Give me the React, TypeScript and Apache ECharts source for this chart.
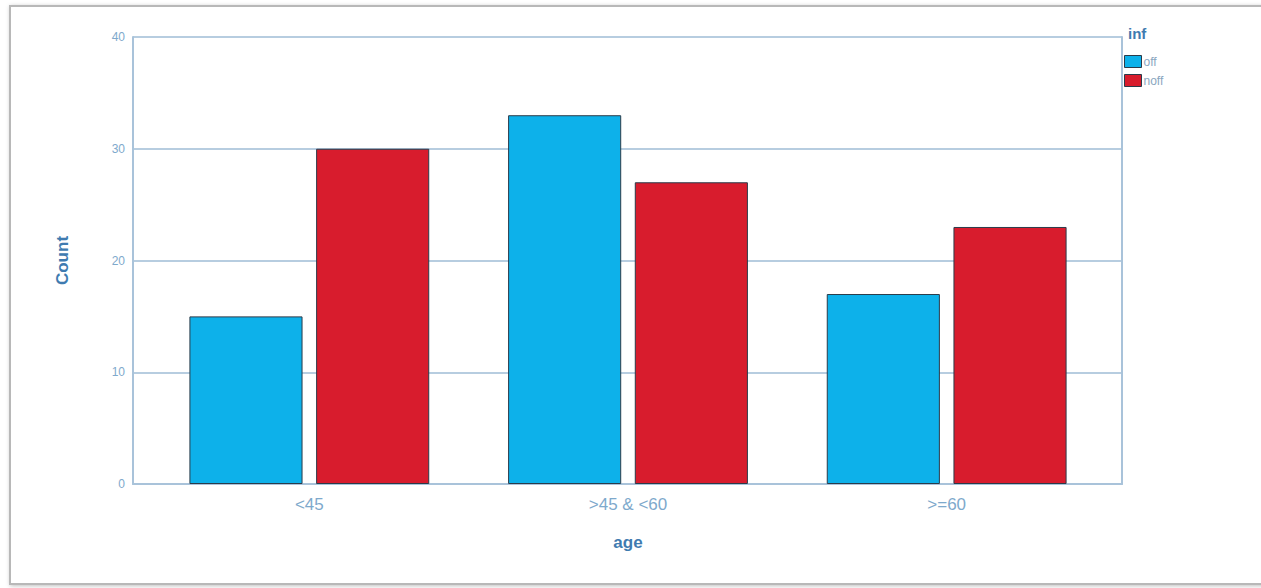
import React, { useEffect, useRef } from "react";
import * as echarts from "echarts";

const categories = ["<45", ">45 & <60", ">=60"];
const offValues = [15, 33, 17];
const noffValues = [30, 27, 23];
const seriesNames = ["off", "noff"];
const yTicks = { min: 0, max: 40, interval: 10 };

export default function App() {
  const ref = useRef<HTMLDivElement>(null);
  useEffect(() => {
    const chart = echarts.init(ref.current!, null, { renderer: "svg" });
    const axisBlue = "#a9c3da";
    const labelBlue = "#7ea9cc";
    const titleBlue = "#3f7bb0";
    chart.setOption({
      animation: false,
      backgroundColor: "#ffffff",
      textStyle: { fontFamily: "Liberation Sans, Arial, sans-serif" },
      graphic: [
        {
          type: "rect",
          shape: { x: 10, y: 6, width: 1260, height: 578 },
          style: {
            fill: "#ffffff",
            stroke: "#b8b8b8",
            lineWidth: 2,
            shadowBlur: 4,
            shadowColor: "rgba(0,0,0,0.25)",
            shadowOffsetX: 1,
            shadowOffsetY: 1,
          },
          z: -10,
          silent: true,
        },
      ],
      legend: {
        data: seriesNames,
        orient: "vertical",
        left: 1124,
        top: 55,
        icon: "rect",
        itemWidth: 17,
        itemHeight: 12,
        itemGap: 6,
        itemStyle: { borderWidth: 1, borderColor: "#2b3b4a" },
        textStyle: { color: "#8aa6c0", fontSize: 12, padding: [0, 0, 0, -3] },
        padding: 0,
      },
      title: {
        text: "inf",
        left: 1128,
        top: 26,
        padding: 0,
        textStyle: { color: titleBlue, fontSize: 15, fontWeight: "bold" },
      },
      grid: [
        { left: 150, right: 155, top: 37, bottom: 104 },
        { left: 133, right: 139, top: 37, bottom: 104 },
      ],
      xAxis: [
        {
          type: "category",
          gridIndex: 0,
          data: categories,
          axisLine: { show: false },
          axisTick: { show: false },
          axisLabel: { color: labelBlue, fontSize: 17, margin: 12 },
          name: "age",
          nameLocation: "middle",
          nameGap: 50,
          nameTextStyle: { color: titleBlue, fontSize: 17, fontWeight: "bold" },
        },
        {
          type: "value",
          gridIndex: 1,
          min: 0,
          max: 1,
          axisLine: { show: true, lineStyle: { color: axisBlue, width: 2 } },
          axisTick: { show: false },
          axisLabel: { show: false },
          splitLine: { show: false },
        },
      ],
      yAxis: [
        {
          type: "value",
          gridIndex: 0,
          min: yTicks.min,
          max: yTicks.max,
          interval: yTicks.interval,
          show: false,
        },
        {
          type: "value",
          gridIndex: 1,
          min: yTicks.min,
          max: yTicks.max,
          interval: yTicks.interval,
          axisLine: { show: true, lineStyle: { color: axisBlue, width: 2 } },
          axisTick: { show: false },
          axisLabel: { color: labelBlue, fontSize: 12, margin: 8 },
          splitLine: { show: true, lineStyle: { color: "#9fbdd6", width: 1.5 } },
          name: "Count",
          nameLocation: "middle",
          nameGap: 62,
          nameTextStyle: { color: titleBlue, fontSize: 17, fontWeight: "bold" },
        },
        {
          type: "value",
          gridIndex: 1,
          position: "right",
          min: yTicks.min,
          max: yTicks.max,
          interval: yTicks.interval,
          axisLine: { show: true, lineStyle: { color: axisBlue, width: 2 } },
          axisTick: { show: false },
          axisLabel: { show: false },
          splitLine: { show: false },
        },
      ],
      series: [
        {
          name: seriesNames[0],
          type: "bar",
          xAxisIndex: 0,
          yAxisIndex: 0,
          data: offValues,
          barWidth: "35.5%",
          barGap: "12%",
          itemStyle: { color: "#0db1ea", borderColor: "#2b3b4a", borderWidth: 1 },
        },
        {
          name: seriesNames[1],
          type: "bar",
          xAxisIndex: 0,
          yAxisIndex: 0,
          data: noffValues,
          barWidth: "35.5%",
          barGap: "12%",
          itemStyle: { color: "#d81c2d", borderColor: "#2b3b4a", borderWidth: 1 },
        },
      ],
    });
    return () => chart.dispose();
  }, []);
  return (
    <div
      ref={ref}
      style={{ position: "fixed", left: 0, top: 0, width: 1261, height: 588 }}
    />
  );
}
